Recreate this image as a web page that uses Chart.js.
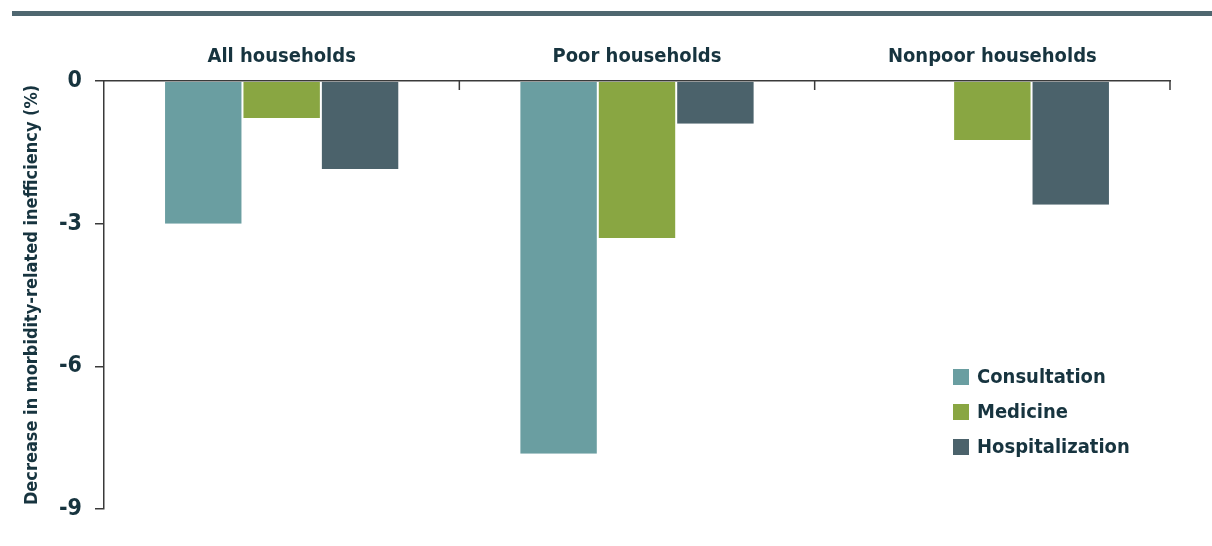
<!DOCTYPE html>
<html>
<head>
<meta charset="utf-8">
<script src="https://cdn.jsdelivr.net/npm/chart.js@4.4.1/dist/chart.umd.min.js"></script>
<style>
  html, body { margin: 0; padding: 0; background: #fff; }
  #wrap { width: 1212px; height: 546px; position: relative; }
</style>
</head>
<body>
<div id="wrap"><canvas id="chart"></canvas></div>
<script>
// household groups and decrease in inefficiency (%) per health expense
const groups = ['All households', 'Poor households', 'Nonpoor households'];
const consultation = [-3.0, -7.84, 0];
const medicine = [-0.78, -3.3, -1.24];
const hospitalization = [-1.85, -0.9, -2.6];
const yTicks = [0, -3, -6, -9];

const ink = '#17343f';
const fontFamily = '"DejaVu Sans Condensed", "Liberation Sans Narrow", sans-serif';

// header rule, downward category ticks and the inset legend
const decor = {
    id: 'decor',
    beforeDraw(chart) {
        const c = chart.ctx;
        c.save();
        c.fillStyle = '#4f6770';
        c.fillRect(12, 11, 1200, 5);
        c.restore();
    },
    afterDraw(chart) {
        const c = chart.ctx;
        const x = chart.scales.x;
        const area = chart.chartArea;
        c.save();
        c.strokeStyle = '#3a3a3a';
        c.lineWidth = 1.5;
        for (let i = 1; i <= groups.length; i++) {
            const px = i < groups.length
                ? (x.getPixelForValue(i - 1) + x.getPixelForValue(i)) / 2
                : area.right;
            c.beginPath();
            c.moveTo(px, area.top);
            c.lineTo(px, area.top + 9);
            c.stroke();
        }
        // legend
        const lx = area.right - 217;
        let ly = area.top + 296;
        c.font = 'bold 20px ' + fontFamily;
        c.textBaseline = 'middle';
        chart.data.datasets.forEach(ds => {
            c.fillStyle = ds.backgroundColor;
            c.fillRect(lx, ly - 8, 16, 16);
            c.fillStyle = ink;
            c.fillText(ds.label, lx + 24, ly + 1);
            ly += 35;
        });
        c.restore();
    }
};

const ctx = document.getElementById('chart').getContext('2d');
new Chart(ctx, {
    type: 'bar',
    data: {
        labels: groups,
        datasets: [
            { label: 'Consultation', data: consultation, backgroundColor: '#6a9ea1' },
            { label: 'Medicine', data: medicine, backgroundColor: '#89a642' },
            { label: 'Hospitalization', data: hospitalization, backgroundColor: '#4b626b' }
        ]
    },
    options: {
        responsive: true,
        maintainAspectRatio: false,
        animation: false,
        layout: { padding: { top: 0, left: 0, right: 42, bottom: 37 } },
        datasets: {
            bar: {
                categoryPercentage: 0.662,
                barPercentage: 1,
                borderColor: '#ffffff',
                borderWidth: { left: 1, right: 1 },
                borderSkipped: false
            }
        },
        scales: {
            x: {
                position: 'top',
                afterFit: s => { s.height = 81; },
                grid: { display: true, drawOnChartArea: false, drawTicks: false },
                border: { display: true, color: '#3a3a3a', width: 1.5 },
                ticks: {
                    color: ink,
                    padding: 12,
                    font: { family: fontFamily, size: 20, weight: 'bold' }
                }
            },
            y: {
                min: -9,
                max: 0,
                afterFit: s => { s.width = 104; },
                afterBuildTicks: s => { s.ticks = yTicks.map(v => ({ value: v })); },
                grid: { display: true, drawOnChartArea: false, tickLength: 9, color: '#3a3a3a', lineWidth: 1.5 },
                border: { display: true, color: '#3a3a3a', width: 1.5 },
                ticks: {
                    color: ink,
                    padding: 13,
                    font: { family: fontFamily, size: 23, weight: 'bold' }
                },
                title: {
                    display: true,
                    text: 'Decrease in morbidity-related inefficiency (%)',
                    color: ink,
                    padding: { top: 22, bottom: 0 },
                    font: { family: fontFamily, size: 18, weight: 'bold' }
                }
            }
        },
        plugins: {
            legend: { display: false },
            tooltip: { enabled: false }
        }
    },
    plugins: [decor]
});
</script>
</body>
</html>
